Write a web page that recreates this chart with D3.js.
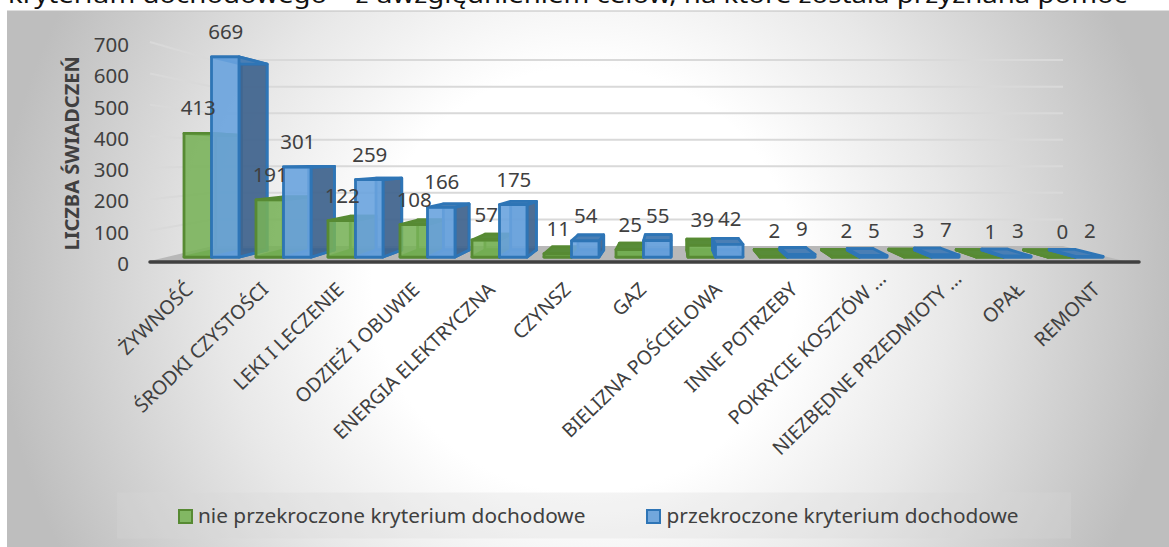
<!DOCTYPE html>
<html><head><meta charset="utf-8">
<script src="https://cdnjs.cloudflare.com/ajax/libs/d3/7.8.5/d3.min.js"></script>
<style>html,body{margin:0;padding:0;background:#fff;overflow:hidden}svg{display:block}text{font-family:"Noto Sans",sans-serif}</style>
</head><body><svg id="c" width="1169" height="547"></svg>
<script>
const categories=["ŻYWNOŚĆ","ŚRODKI CZYSTOŚCI","LEKI I LECZENIE","ODZIEŻ I OBUWIE","ENERGIA ELEKTRYCZNA","CZYNSZ","GAZ","BIELIZNA POŚCIELOWA","INNE POTRZEBY","POKRYCIE KOSZTÓW ...","NIEZBĘDNE PRZEDMIOTY ...","OPAŁ","REMONT"];
const seriesNames=["nie przekroczone kryterium dochodowe","przekroczone kryterium dochodowe"];
const notExceeded=[413,191,122,108,57,11,25,39,2,2,3,1,0];
const exceeded=[669,301,259,166,175,54,55,42,9,5,7,3,2];
const yTicks=[0,100,200,300,400,500,600,700];
const titleText="kryterium dochodowego – z uwzględnieniem celów, na które została przyznana pomoc";
const axisTitle="LICZBA ŚWIADCZEŃ";

const svg=d3.select("#c");
const defs=svg.append("defs");
const grad=defs.append("radialGradient").attr("id","bg").attr("gradientUnits","userSpaceOnUse")
 .attr("cx",585).attr("cy",280).attr("r",590);
[[0,"#ffffff"],[.36,"#ffffff"],[.62,"#e8e8e8"],[1,"#bebebe"]].forEach(s=>grad.append("stop").attr("offset",s[0]).attr("stop-color",s[1]));

svg.append("text").attr("x",8).attr("y",3).attr("font-size",24).attr("fill","#111").attr("textLength",1119).attr("lengthAdjust","spacingAndGlyphs").text(titleText);
svg.append("rect").attr("x",7).attr("y",11).attr("width",1162).attr("height",536).attr("fill","url(#bg)");
svg.append("line").attr("x1",7).attr("x2",1169).attr("y1",11).attr("y2",11).attr("stroke","#bdbdbd").attr("stroke-width",1);

// perspective model
const y=d3.scaleLinear().domain([0,700]).range([262,42]);
const vy=158.7, ky=.155;
const depthY=(v,t)=>vy+(y(v)-vy)*(1-ky*t);
const tFront=.31,tBack=.75,vx=671,kBar=.935;
const backX=x=>vx+(x-vx)*kBar;

const band=d3.scaleBand().domain(categories).range([175.5,1111.5]).paddingInner(.236).paddingOuter(.118);
const labelPos=d3.scalePoint().domain(categories).range([194,1101]);

// walls, floor
const wall={x0:150,x1:213,x2:1063,x3:1124,xEnd:1139};
const g=svg.append("g");
g.selectAll(".gl").data(yTicks.slice(1)).join("polyline").attr("class","gl")
 .attr("points",d=>[[wall.x0,depthY(d,0)],[wall.x1,depthY(d,1)],[wall.x2,depthY(d,1)]].join(" "))
 .attr("fill","none").attr("stroke","#d9d9d9").attr("stroke-width",2);
g.append("polygon").attr("points",[[wall.x1,depthY(0,1)],[wall.x2,depthY(0,1)],[wall.x3,depthY(0,0)-1],[wall.x0,depthY(0,0)-1]].join(" ")).attr("fill","#b8b8b8");
g.append("line").attr("x1",wall.x0).attr("x2",wall.xEnd).attr("y1",y(0)).attr("y2",y(0)).attr("stroke","#404040").attr("stroke-width",3.5).attr("stroke-linecap","round");

// axis
const axisScale=d3.scaleLinear().domain([0,700]).range([264,45]);
const ax=svg.append("g").attr("transform","translate(135,0)").call(d3.axisLeft(axisScale).tickValues(yTicks).tickSize(0).tickPadding(6));
ax.select(".domain").remove();
ax.selectAll("text").attr("font-size",20.5).attr("fill","#404040").attr("font-family","'Noto Sans',sans-serif");
svg.append("text").attr("transform","translate(79,153.5) rotate(-90)").attr("text-anchor","middle").attr("font-size",20).attr("font-weight",700).attr("fill","#404040").text(axisTitle);

// bars
const styles=[
 {stroke:"#578a33",front:"rgba(120,178,88,.88)",side:"rgba(88,135,58,.75)",top:"#588c38",back:"rgba(120,178,88,.55)"},
 {stroke:"#2e75b6",front:"rgba(105,163,222,.9)",side:"rgba(66,100,140,.88)",top:"#4a7fb5",back:"rgba(85,130,185,.6)"}
];
const bars=[];
categories.forEach((c,i)=>{[notExceeded[i],exceeded[i]].forEach((v,s)=>bars.push({c,v,s}));});
const w=band.bandwidth()/2;
const bg=svg.append("g");
bars.forEach(b=>{
 const x0=band(b.c)+b.s*w,x1=x0+w,st=styles[b.s];
 const P=(x,v,back)=>back?[backX(x),depthY(v,tBack)]:[x,depthY(v,tFront)];
 const face=(pts,fill)=>bg.append("polygon").attr("points",pts.join(" ")).attr("fill",fill).attr("stroke",st.stroke).attr("stroke-width",2.8).attr("stroke-linejoin","round");
 face([P(x0,0,1),P(x1,0,1),P(x1,b.v,1),P(x0,b.v,1)],st.back);
 face([P(x0,0,0),P(x1,0,0),P(x1,0,1),P(x0,0,1)],st.top);
 const sx=(x1+x0)/2<vx?x1:x0;
 face([P(sx,0,0),P(sx,0,1),P(sx,b.v,1),P(sx,b.v,0)],st.side);
 face([P(x0,b.v,0),P(x1,b.v,0),P(x1,b.v,1),P(x0,b.v,1)],st.top);
 face([P(x0,0,0),P(x1,0,0),P(x1,b.v,0),P(x0,b.v,0)],st.front);
});
// value labels
const lg=svg.append("g");
bars.forEach(b=>{
 lg.append("text").attr("x",band(b.c)+b.s*w+w/2+.5).attr("y",depthY(b.v,tFront)-18).attr("text-anchor","middle").attr("font-size",20.5).attr("fill","#404040").text(b.v);
});
// category labels (the truncated ones carry their dots past the anchor)
svg.append("g").selectAll("text").data(categories).join("text")
 .attr("transform",d=>{const e=d.endsWith("...")?1:0;return `translate(${labelPos(d)+e*13},${291-e*11}) rotate(-44)`;})
 .attr("text-anchor","end").attr("font-size",19.5).attr("fill","#404040").text(d=>d);

// legend
svg.append("rect").attr("x",117).attr("y",492.5).attr("width",954).attr("height",46).attr("fill","#d9d9d9").attr("fill-opacity",.28);
const legendX=[[179,198],[647,666.5]];
seriesNames.forEach((n,i)=>{
 svg.append("rect").attr("x",legendX[i][0]).attr("y",510).attr("width",13).attr("height",13).attr("fill",i?"#72a7dc":"#82b763").attr("stroke",i?"#2e75b6":"#578a33").attr("stroke-width",2);
 svg.append("text").attr("x",legendX[i][1]).attr("y",523).attr("font-size",20.8).attr("fill","#404040").text(n);
});
</script></body></html>
